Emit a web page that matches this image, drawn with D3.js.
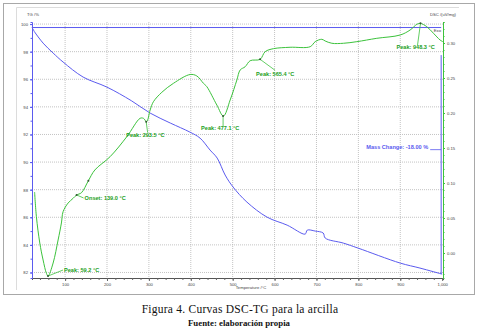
<!DOCTYPE html>
<html lang="es">
<head>
<meta charset="UTF-8">
<title>Curvas DSC-TG</title>
<style>
  body { margin: 0; background: #fff; }
  svg { display: block; }
  .tick text { font-family: "Liberation Sans", Arial, sans-serif; }
</style>
</head>
<body>
<script src="https://cdn.jsdelivr.net/npm/d3@7"></script>
<script>
// ---- data ----
var tgTemp = [21, 26, 27.4, 47.5, 71.4, 95.2, 143, 200, 258, 303, 351, 398, 422, 446, 463, 482, 501, 534, 582, 630, 673, 678, 697, 716, 721, 764, 799, 900, 947, 1000];
var tgMass = [99.75, 99.49, 99.42, 98.62, 97.9, 97.25, 96.16, 95.43, 94.45, 93.55, 92.83, 92.17, 91.74, 90.87, 90.29, 89.06, 88.19, 87.1, 86.01, 85.43, 84.78, 85.07, 85.0, 84.86, 84.49, 84.13, 83.77, 82.68, 82.32, 81.88];

var dscTemp = [27.2, 31.5, 39.6, 47.5, 55.4, 59.4, 71.4, 83.3, 91.2, 95.2, 107.2, 119.1, 127.5, 139, 155.6, 171, 207.4, 247.3, 279, 287, 294.6, 303, 310.8, 330.9, 358.6, 398.4, 414.4, 430.2, 438.3, 462.2, 477.9, 494, 510, 517.8, 529.8, 541.7, 565.5, 577.5, 597.3, 637, 685, 697, 712.8, 720.7, 736.7, 764.4, 796.4, 844, 899.7, 923.6, 939.6, 947.4, 963.4, 979.2, 995, 1001.6];
var dscSignal = [0.0871, 0.0519, 0.0143, -0.0100, -0.029, -0.0329, -0.0143, 0.0186, 0.0429, 0.059, 0.0714, 0.0781, 0.0829, 0.0861, 0.1033, 0.1186, 0.1376, 0.1661, 0.1924, 0.1924, 0.1876, 0.2043, 0.2161, 0.2296, 0.2424, 0.255, 0.2529, 0.2424, 0.2376, 0.2114, 0.1957, 0.2186, 0.2471, 0.2614, 0.2661, 0.2747, 0.2767, 0.2876, 0.2919, 0.2939, 0.2947, 0.3019, 0.3053, 0.3029, 0.2996, 0.2996, 0.3019, 0.3067, 0.3114, 0.3186, 0.3267, 0.3281, 0.3233, 0.3139, 0.3043, 0.3019];

var markTemp = [59.2, 127.5, 155.6, 293.5, 477.1, 565.4, 948.3];
var markSignal = [-0.0329, 0.0829, 0.1033, 0.1876, 0.1957, 0.2767, 0.3281];
var labelText = ["Peak: 59.2 °C", "Onset: 139.0 °C", "Peak: 293.5 °C", "Peak: 477.1 °C", "Peak: 565.4 °C", "Peak: 948.3 °C"];
var labelMark = [0, 1, 3, 4, 5, 6];

var xTicks = [100, 200, 300, 400, 500, 600, 700, 800, 900, 1000];
var tgTicks = [100, 98, 96, 94, 92, 90, 88, 86, 84, 82];
var dscTicks = [0.30, 0.25, 0.20, 0.15, 0.10, 0.05, 0.00];
var massChange = "Mass Change: -18.00 %";

// ---- layout ----
var W = 478, H = 331;
var pL = 32, pR = 443, pT = 22, pB = 278;
var blue = "#5b5bef", green = "#3cc23c", greenText = "#22a022", grid = "#b4b4b4";
var sans = "Liberation Sans, Arial, sans-serif";
var serif = "Liberation Serif, Times New Roman, serif";

var svg = d3.select("body").append("svg").attr("width", W).attr("height", H);

// frame
svg.append("rect").attr("x", 3.5).attr("y", 3.5).attr("width", 471).attr("height", 291)
  .attr("fill", "none").attr("stroke", "#a8a8a8");
svg.append("path").attr("d", "M16.5,290V7.5H459").attr("fill", "none").attr("stroke", "#dcdcdc");

var x = d3.scaleLinear().domain([21, 1002]).range([pL, pR]);
var yTG = d3.scaleLinear().domain([81.6, 100.15]).range([pB, pT]);
var yDSC = d3.scaleLinear().domain([-0.0357, 0.33]).range([pB, pT]);

// grid
svg.append("g").selectAll("line").data(xTicks.filter(function(d){return d < 1000;}))
  .enter().append("line")
  .attr("x1", function(d){return x(d);}).attr("x2", function(d){return x(d);})
  .attr("y1", pT).attr("y2", pB)
  .attr("stroke", grid).attr("stroke-width", 0.8).attr("stroke-dasharray", "1,1");
svg.append("g").selectAll("line").data(tgTicks)
  .enter().append("line")
  .attr("x1", pL).attr("x2", pR)
  .attr("y1", function(d){return yTG(d);}).attr("y2", function(d){return yTG(d);})
  .attr("stroke", grid).attr("stroke-width", 0.8).attr("stroke-dasharray", "1,1");

// x axis
var xAxis = svg.append("g").attr("transform", "translate(0," + pB + ")")
  .call(d3.axisBottom(x).tickValues(d3.range(40, 1001, 20)).tickSize(2).tickFormat(""));
xAxis.select(".domain").attr("stroke", "#555");
xAxis.selectAll(".tick line").attr("stroke", "#666");
var xMajor = svg.append("g").attr("transform", "translate(0," + pB + ")")
  .call(d3.axisBottom(x).tickValues(xTicks).tickSize(3).tickPadding(2));
xMajor.select(".domain").remove();
xMajor.selectAll(".tick line").attr("stroke", "#666");
xMajor.selectAll("text").attr("font-size", 4.2).attr("fill", "#444");

svg.append("text").attr("x", 251).attr("y", 289).attr("text-anchor", "middle")
  .attr("font-family", sans).attr("font-size", 4.2).attr("fill", "#444")
  .text("Temperature /°C");

// left TG axis
var yAxisL = svg.append("g").attr("transform", "translate(" + pL + ",0)")
  .call(d3.axisLeft(yTG).tickValues(d3.range(82, 100.1, 1)).tickSize(1.5).tickFormat(""));
yAxisL.select(".domain").attr("stroke", blue);
yAxisL.selectAll(".tick line").attr("stroke", blue);
var yAxisL2 = svg.append("g").attr("transform", "translate(" + pL + ",0)")
  .call(d3.axisLeft(yTG).tickValues(tgTicks).tickSize(2).tickPadding(2).tickFormat(d3.format("d")));
yAxisL2.select(".domain").remove();
yAxisL2.selectAll(".tick line").attr("stroke", blue);
yAxisL2.selectAll("text").attr("font-size", 4.2).attr("fill", "#444");

// right DSC axis
var yAxisR = svg.append("g").attr("transform", "translate(" + pR + ",0)")
  .call(d3.axisRight(yDSC).tickValues(d3.range(-0.03, 0.331, 0.01)).tickSize(1.5).tickFormat(""));
yAxisR.select(".domain").attr("stroke", green);
yAxisR.selectAll(".tick line").attr("stroke", green);
var yAxisR2 = svg.append("g").attr("transform", "translate(" + pR + ",0)")
  .call(d3.axisRight(yDSC).tickValues(dscTicks).tickSize(2).tickPadding(2).tickFormat(d3.format(".2f")));
yAxisR2.select(".domain").remove();
yAxisR2.selectAll(".tick line").attr("stroke", green);
yAxisR2.selectAll("text").attr("font-size", 4.2).attr("fill", "#444");

svg.append("text").attr("x", 27).attr("y", 15.5)
  .attr("font-family", sans).attr("font-size", 4.2).attr("fill", "#444")
  .text("TG /%");
svg.append("text").attr("x", 456).attr("y", 15.5).attr("text-anchor", "end")
  .attr("font-family", sans).attr("font-size", 4.2).attr("fill", "#444")
  .text("DSC /(uV/mg)");
svg.append("text").attr("x", 441).attr("y", 31.5).attr("text-anchor", "end")
  .attr("font-family", sans).attr("font-size", 4.2).attr("fill", "#444")
  .text("Exo");

// TG curve
var tgData = tgTemp.map(function(t, i){ return {t: t, v: tgMass[i]}; });
var tgLine = d3.line()
  .x(function(d){ return x(d.t); })
  .y(function(d){ return yTG(d.v); })
  .curve(d3.curveCatmullRom.alpha(0.5));
svg.append("path").datum(tgData)
  .attr("fill", "none").attr("stroke", blue).attr("stroke-width", 1).attr("d", tgLine);

// mass change bracket
var tStart = tgMass[0], tEnd = tgMass[tgMass.length - 1];
var xm = x(1000) - 1;
svg.append("path")
  .attr("d", "M" + x(tgTemp[0]) + "," + yTG(tStart) + "H" + xm)
  .attr("fill", "none").attr("stroke", blue).attr("stroke-width", 1);
svg.append("path")
  .attr("d", "M" + xm + "," + yTG(97.75) + "V" + yTG(tEnd))
  .attr("fill", "none").attr("stroke", blue).attr("stroke-width", 1);
svg.append("path")
  .attr("d", "M" + (xm - 11) + "," + yTG(90.9) + "H" + xm)
  .attr("fill", "none").attr("stroke", blue).attr("stroke-width", 0.8);
svg.append("text").attr("x", xm - 13).attr("y", yTG(90.9) - 0.5).attr("text-anchor", "end")
  .attr("font-family", sans).attr("font-weight", "bold")
  .attr("font-size", 5.6).attr("fill", blue).text(massChange);

// DSC curve
var dscData = dscTemp.map(function(t, i){ return {t: t, v: dscSignal[i]}; });
var dscLine = d3.line()
  .x(function(d){ return x(d.t); })
  .y(function(d){ return yDSC(d.v); })
  .curve(d3.curveCatmullRom.alpha(0.5));
svg.append("path").datum(dscData)
  .attr("fill", "none").attr("stroke", green).attr("stroke-width", 1).attr("d", dscLine);

// annotations: leader end offset and text anchor offset (px) per label
var leadEnd = [[15, -6], [7, 3], [1.5, 11], [0, 10], [15, 11], [-3, 22]];
var textOff = [[16, -4], [8, 5], [-20, 15], [-22, 14], [-4, 17], [-24, 26]];
labelText.forEach(function(txt, i){
  var m = labelMark[i];
  var px = x(markTemp[m]), py = yDSC(markSignal[m]);
  svg.append("line").attr("x1", px).attr("y1", py)
    .attr("x2", px + leadEnd[i][0]).attr("y2", py + leadEnd[i][1])
    .attr("stroke", green).attr("stroke-width", 0.8);
  svg.append("text").attr("x", px + textOff[i][0]).attr("y", py + textOff[i][1])
    .attr("font-family", sans).attr("font-weight", "bold")
    .attr("font-size", 5.6).attr("fill", greenText).text(txt);
});
svg.append("g").selectAll("circle").data(markTemp)
  .enter().append("circle")
  .attr("cx", function(d){ return x(d); })
  .attr("cy", function(d, i){ return yDSC(markSignal[i]); })
  .attr("r", 1).attr("fill", "#335533");

// caption
svg.append("text").attr("x", 240).attr("y", 313).attr("text-anchor", "middle")
  .attr("font-family", serif).attr("font-size", 11.5).attr("letter-spacing", 0.25).attr("fill", "#111")
  .text("Figura 4. Curvas DSC-TG para la arcilla");
svg.append("text").attr("x", 239).attr("y", 325.5).attr("text-anchor", "middle")
  .attr("font-family", serif).attr("font-weight", "bold")
  .attr("font-size", 8.8).attr("fill", "#111")
  .text("Fuente: elaboración propia");
</script>
</body>
</html>
